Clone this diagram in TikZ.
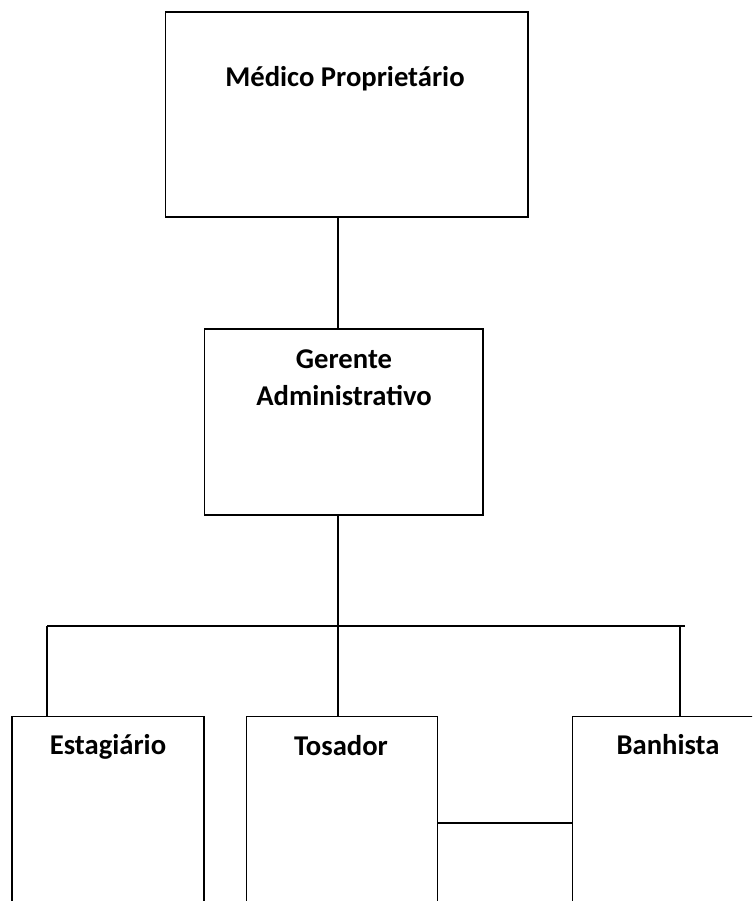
\documentclass[tikz,border=0pt]{standalone}
\usepackage{fontspec}
\setmainfont{Carlito}
\usepackage{tikz}
\usetikzlibrary{positioning, calc}
\tikzset{
    box/.style={rectangle, draw, line width=0.6pt, inner sep=0pt},
    title/.style={font=\fontsize{16.3}{20.5}\selectfont\bfseries, align=center, inner sep=0pt, anchor=base},
    link/.style={line width=1.2pt},
}

\begin{document}
\begin{tikzpicture}[x=0.02cm, y=-0.02cm]
    \useasboundingbox (0,0) rectangle (752,901);
    \clip (0,0) rectangle (752,901);
    % chefia
    \node[box, minimum width=7.26cm, minimum height=4.1cm] (medico) at (346.5,114.5) {};
    \node[title] (tmedico) at (345,87) {Médico Proprietário};
    \node[box, minimum width=5.58cm, minimum height=3.72cm] (gerente) at (343.5,422) {};
    \node[title] (tgerente) at (344,405) {Gerente\\Administrativo};
    % equipe
    \node[box, minimum width=3.84cm, minimum height=4.28cm] (estagiario) at (108,823) {};
    \node[title] (testagiario) at (108,754) {Estagiário};
    \node[box, minimum width=3.83cm, minimum height=4.28cm] (tosador) at (342,823) {};
    \node[title] (ttosador) at (341,755) {Tosador};
    \node[box, minimum width=3.84cm, minimum height=4.28cm] (banhista) at (668,823) {};
    \node[title] (tbanhista) at (668,754) {Banhista};
    % barramento
    \coordinate (trunk) at (338,626);
    \coordinate (busL) at (47,626);
    \coordinate (busR) at (685,626);
    \coordinate (dropR) at (680,626);
    \draw[link] (medico.south -| trunk) -- (gerente.north -| trunk);
    \draw[link] (gerente.south -| trunk) -- (trunk);
    \draw[link] (busL) -- (busR);
    \draw[link] (busL) -- (estagiario.north -| busL);
    \draw[link] (trunk) -- (tosador.north -| trunk);
    \draw[link] (dropR) -- (banhista.north -| dropR);
    \draw[link] (tosador) -- (banhista);
\end{tikzpicture}
\end{document}
